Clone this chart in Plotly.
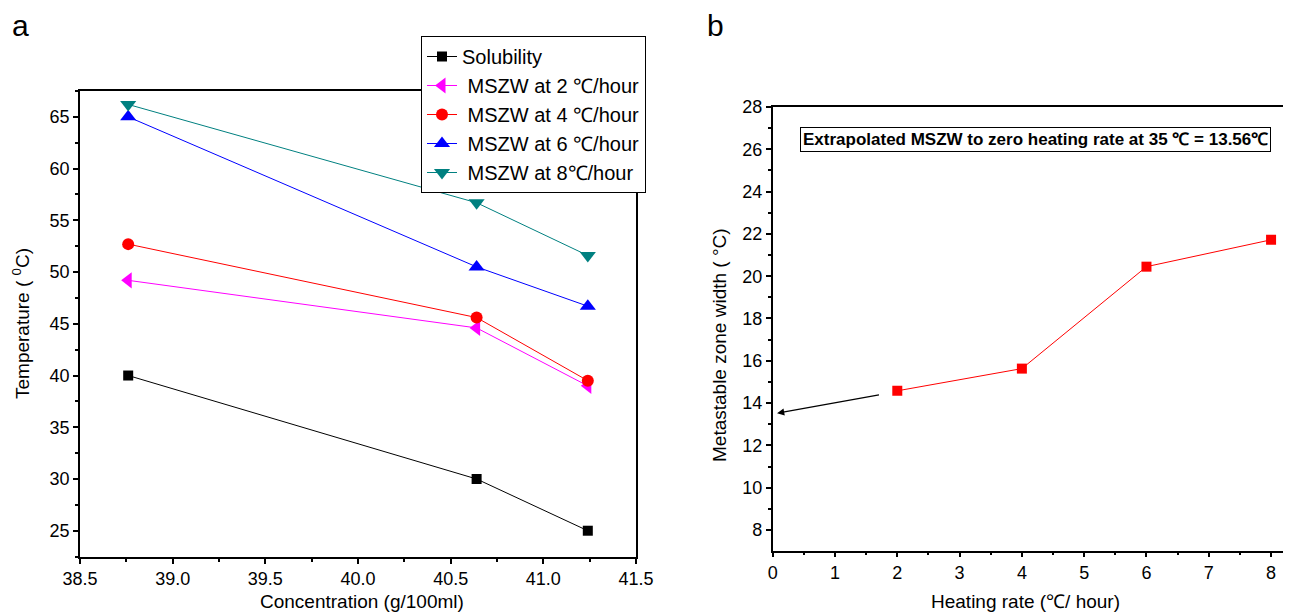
import plotly.graph_objects as go

# ---- Panel a data ----
concentration = [38.76, 40.64, 41.24]
solubility = [40.0, 30.0, 25.0]
mszw_2 = [49.2, 44.6, 39.0]
mszw_4 = [52.7, 45.6, 39.5]
mszw_6 = [65.0, 50.5, 46.7]
mszw_8 = [66.2, 56.7, 51.6]

# ---- Panel b data ----
heating_rate = [2, 4, 6, 8]
mszw_width = [14.58, 15.63, 20.45, 21.72]
arrow_start = (1.73, 14.4)
arrow_end = (0.07, 13.52)

FONT = "Liberation Sans, Arial, sans-serif"
OFF = 8  # page body margin
W, H = 1291 - OFF, 613 - OFF


def fx(px):
    return (px - OFF) / W


def fy(py):
    return 1 - (py - OFF) / H


fig = go.Figure()

series = [
    ("Solubility", solubility, "black", "square", 10),
    (" MSZW at 2 ℃/hour", mszw_2, "#FF00FF", "triangle-left", 14),
    (" MSZW at 4 ℃/hour", mszw_4, "#FF0000", "circle", 12),
    (" MSZW at 6 ℃/hour", mszw_6, "#0000FF", "triangle-up", 14),
    (" MSZW at 8℃/hour", mszw_8, "#008080", "triangle-down", 14),
]
for name, ys, col, sym, sz in series:
    fig.add_trace(go.Scatter(
        x=concentration, y=ys, name=name, mode="lines+markers",
        line=dict(color=col, width=1),
        marker=dict(symbol=sym, size=sz, color=col),
        xaxis="x", yaxis="y"))

fig.add_trace(go.Scatter(
    x=heating_rate, y=mszw_width, mode="lines+markers", showlegend=False,
    line=dict(color="#FF0000", width=1),
    marker=dict(symbol="square", size=10, color="#FF0000"),
    xaxis="x2", yaxis="y2"))

axis_common = dict(
    showgrid=False, zeroline=False, showline=True, linecolor="black",
    linewidth=1.5, ticks="outside", ticklen=5, tickwidth=1.5, automargin=False,
    tickcolor="black", tickfont=dict(family=FONT, size=18, color="black"),
)

xa_dom = [fx(80), fx(636)]
ya_dom = [fy(557), fy(91)]
xb_dom = [fx(772.7), 1.0]
yb_dom = [fy(550.7), fy(107)]

fig.update_layout(
    width=W, height=H,
    margin=dict(l=0, r=0, t=0, b=0),
    paper_bgcolor="white", plot_bgcolor="white",
    font=dict(family=FONT, color="black"),
    xaxis=dict(axis_common, domain=xa_dom, anchor="y", range=[38.5, 41.5],
               dtick=0.5, tickformat=".1f", mirror=True,
               minor=dict(ticks="outside", ticklen=3, tickcolor="black", dtick=0.25)),
    yaxis=dict(axis_common, domain=ya_dom, anchor="x", range=[22.46, 67.5],
               dtick=5, tick0=0, mirror=True,
               minor=dict(ticks="outside", ticklen=3, tickcolor="black", dtick=2.5)),
    xaxis2=dict(axis_common, domain=xb_dom, anchor="y2", range=[0, 8.32],
                dtick=1, tick0=0, mirror=True,
                minor=dict(ticks="outside", ticklen=3, tickcolor="black", dtick=0.5)),
    yaxis2=dict(axis_common, domain=yb_dom, anchor="x2", range=[7.02, 28],
                dtick=2, tick0=0, mirror=False,
                minor=dict(ticks="outside", ticklen=3, tickcolor="black", dtick=1)),
    legend=dict(x=fx(421), y=fy(36), xanchor="left", yanchor="top",
                bordercolor="black", borderwidth=1, bgcolor="white",
                font=dict(family=FONT, size=20, color="black"),
                tracegroupgap=0),
    showlegend=True,
)


def txt(text, x, y, size, angle=0):
    fig.add_annotation(text=text, xref="paper", yref="paper", x=fx(x), y=fy(y),
                       xanchor="center", yanchor="middle", showarrow=False,
                       textangle=angle, font=dict(family=FONT, size=size, color="black"))


txt("a", 20, 26, 30)
txt("b", 715, 26, 30)
txt("Concentration (g/100ml)", 362, 601, 19)
txt("Temperature ( <sup>0</sup>C)", 21, 324, 19, angle=-90)
txt("Heating rate (℃/ hour)", 1025, 601, 19)
txt("Metastable zone width ( °C)", 719, 345, 19, angle=-90)

fig.add_annotation(text="<b>Extrapolated MSZW to zero heating rate at 35 ℃ = 13.56℃</b>",
                   xref="paper", yref="paper", x=fx(1035), y=fy(140),
                   xanchor="center", yanchor="middle", showarrow=False,
                   bordercolor="black", borderwidth=1, borderpad=2, bgcolor="white",
                   font=dict(family=FONT, size=17, color="black"))

fig.add_annotation(x=arrow_end[0], y=arrow_end[1], ax=arrow_start[0], ay=arrow_start[1],
                   xref="x2", yref="y2", axref="x2", ayref="y2", text="",
                   showarrow=True, arrowhead=2, arrowsize=1.2, arrowwidth=1.2,
                   arrowcolor="black")

fig.write_html("out.html")
